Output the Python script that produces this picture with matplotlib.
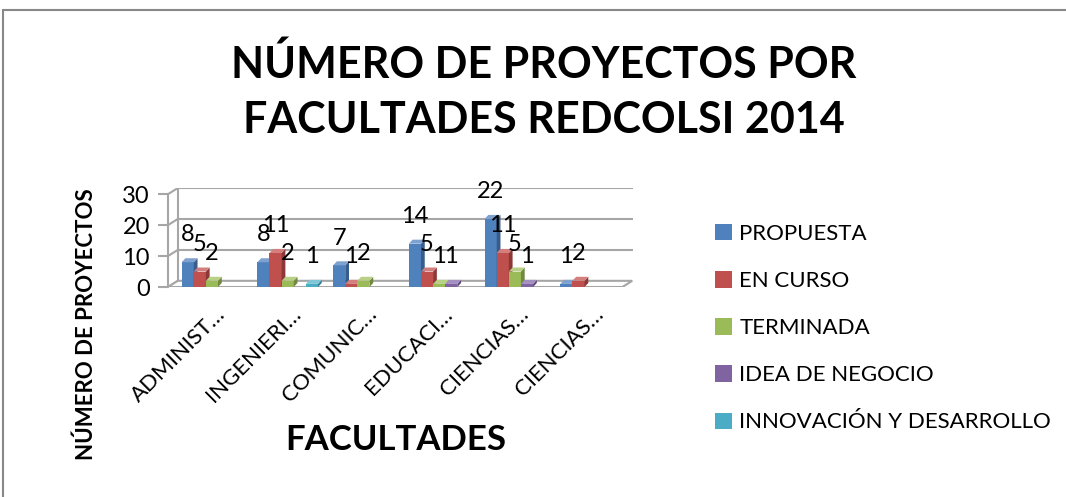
import matplotlib.pyplot as plt
from matplotlib.patches import Polygon, Rectangle, Patch

plt.rcParams['font.family'] = ['Lato', 'DejaVu Sans']

# data
facultades = ['ADMINIST…', 'INGENIERI…', 'COMUNIC…', 'EDUCACI…', 'CIENCIAS…', 'CIENCIAS…']
series = ['PROPUESTA', 'EN CURSO', 'TERMINADA', 'IDEA DE NEGOCIO', 'INNOVACIÓN Y DESARROLLO']
propuesta = [8, 8, 7, 14, 22, 1]
en_curso = [5, 11, 1, 5, 11, 2]
terminada = [2, 2, 2, 1, 5, None]
idea_negocio = [None, None, None, 1, 1, None]
innovacion = [None, 1, None, None, None, None]
values = [propuesta, en_curso, terminada, idea_negocio, innovacion]

colors = ['#4F81BD', '#C0504D', '#9BBB59', '#8064A2', '#4BACC6']
sides = ['#385D8A', '#8C3836', '#71893F', '#5C4776', '#357D91']
tops = ['#7EA1CF', '#D27F7D', '#B8CF86', '#A38FC0', '#7FC6D9']

fig = plt.figure(figsize=(10.66, 4.97), dpi=100)
W, H = 1066, 497
ax = fig.add_axes([168 / W, (497 - 287) / H, 465 / W, 99 / H])

fdx, fdy = 0.13, 2.0   # floor depth
bdx, bdy = 0.05, 1.3   # bar depth
bw = 0.16
shift = 0.08

ax.set_xlim(-0.5, 5.5 + 0.14)
ax.set_ylim(0, 32)

# floor and back grid
ax.add_patch(Polygon([(-0.5, 0), (5.5, 0), (5.5 + fdx, fdy), (-0.5 + fdx, fdy)],
                     closed=True, facecolor='white', edgecolor='#A6A6A6', lw=1.5, zorder=1))
for gy in [10, 20, 30]:
    ax.plot([-0.5 + fdx, 5.5 + fdx], [gy + fdy, gy + fdy], color='#A6A6A6', lw=1.5, zorder=0)
for gy in [0, 10, 20, 30]:
    ax.plot([-0.5, -0.5 + fdx], [gy, gy + fdy], color='#A6A6A6', lw=1.5, zorder=0)
ax.plot([-0.5 + fdx, -0.5 + fdx], [fdy, 30 + fdy], color='#A6A6A6', lw=1.5, zorder=0)

for s, vals in enumerate(values):
    for i, v in enumerate(vals):
        if v is None:
            continue
        xl = i + (s - 2.5) * bw + shift
        ax.bar(xl, v, width=bw, align='edge', color=colors[s], zorder=3 + i)
        ax.add_patch(Polygon([(xl + bw, 0), (xl + bw + bdx, bdy), (xl + bw + bdx, v + bdy), (xl + bw, v)],
                             closed=True, facecolor=sides[s], edgecolor='none', zorder=3 + i))
        ax.add_patch(Polygon([(xl, v), (xl + bw, v), (xl + bw + bdx, v + bdy), (xl + bdx, v + bdy)],
                             closed=True, facecolor=tops[s], edgecolor='none', zorder=3 + i))
        ax.annotate(str(v), (xl + bw / 2, v), xytext=(0, 15), textcoords='offset points',
                    ha='center', va='baseline', fontsize=17, zorder=20)

for sp in ['top', 'right', 'bottom']:
    ax.spines[sp].set_visible(False)
ax.spines['left'].set_color('#A6A6A6')
ax.spines['left'].set_linewidth(1.5)
ax.spines['left'].set_bounds(0, 30)
ax.set_yticks([0, 10, 20, 30])
ax.tick_params(axis='y', length=7, width=1.5, color='#A6A6A6', labelsize=17, pad=6)
ax.set_xticks([i + 0.12 for i in range(6)])
ax.set_xticklabels(facultades, rotation=45, ha='right', rotation_mode='anchor', fontsize=16)
ax.tick_params(axis='x', length=0, pad=12)
ax.set_facecolor('none')

ax.set_xlabel('FACULTADES', fontsize=25, fontweight='bold')
ax.xaxis.set_label_coords(0.49, -1.38)
ax.set_ylabel('NÚMERO DE PROYECTOS', fontsize=16, fontweight='bold')
ax.yaxis.set_label_coords(-0.153, -0.38)

fig.suptitle('NÚMERO DE PROYECTOS POR\nFACULTADES REDCOLSI 2014', x=544 / W, y=1 - 44 / H,
             fontsize=31, fontweight='bold', linespacing=1.45)

handles = [Patch(facecolor=c) for c in colors]
fig.legend(handles, series, loc='upper left', bbox_to_anchor=(695 / W, 1 - 204 / H), frameon=False,
           fontsize=16, handlelength=0.75, handleheight=0.75, handletextpad=0.35, labelspacing=1.22)

fig.patches.append(Rectangle((3 / W, -0.1), 1.2, 1.08, transform=fig.transFigure, fill=False,
                             edgecolor='#888888', lw=1.5))

fig.savefig('out.png', dpi=100)
